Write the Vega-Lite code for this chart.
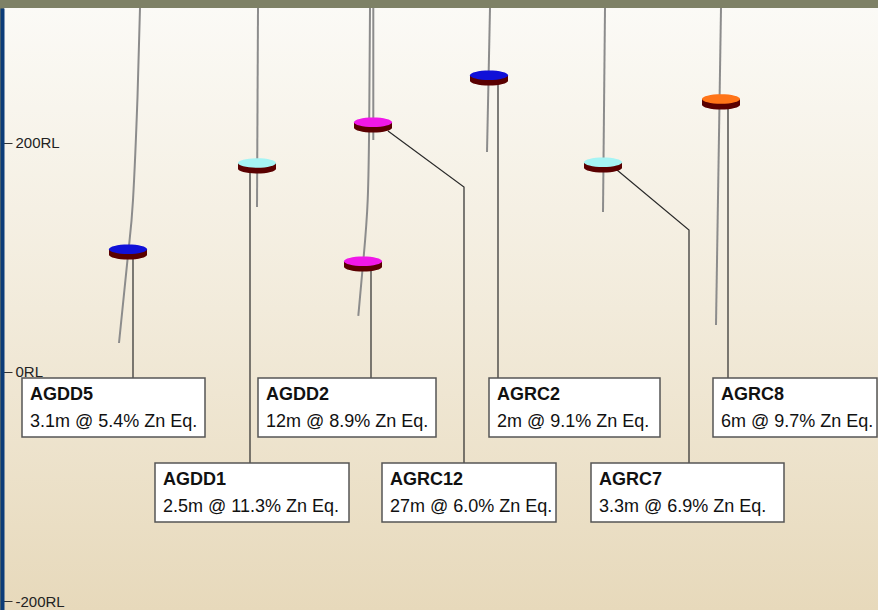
{
  "$schema": "https://vega.github.io/schema/vega-lite/v6.json",
  "width": 874,
  "height": 602,
  "autosize": "none",
  "padding": {"left": 4, "top": 8, "right": 0, "bottom": 0},
  "background": "#7e8166",
  "config": {
    "view": {
      "stroke": null,
      "fill": {
        "gradient": "linear",
        "x1": 0, "y1": 0, "x2": 0, "y2": 1,
        "stops": [
          {"offset": 0, "color": "#fbfaf6"},
          {"offset": 0.5, "color": "#f2ebdb"},
          {"offset": 1, "color": "#e7d9bb"}
        ]
      }
    },
    "font": "Liberation Sans"
  },
  "datasets": {
    "traces": [
      {"hole": "AGDD5", "i": 0, "x": 140, "y": 317.6},
      {"hole": "AGDD5", "i": 1, "x": 137.5, "y": 240.0},
      {"hole": "AGDD5", "i": 2, "x": 133, "y": 150.1},
      {"hole": "AGDD5", "i": 3, "x": 128.3, "y": 104.7},
      {"hole": "AGDD5", "i": 4, "x": 119, "y": 25.3},
      {"hole": "AGDD1", "i": 0, "x": 258, "y": 317.6},
      {"hole": "AGDD1", "i": 1, "x": 257, "y": 144.0},
      {"hole": "AGRC12", "i": 0, "x": 373.3, "y": 317.6},
      {"hole": "AGRC12", "i": 1, "x": 373.3, "y": 202.4},
      {"hole": "AGDD2", "i": 0, "x": 370, "y": 317.6},
      {"hole": "AGDD2", "i": 1, "x": 369.3, "y": 230.0},
      {"hole": "AGDD2", "i": 2, "x": 367.7, "y": 150.1},
      {"hole": "AGDD2", "i": 3, "x": 363, "y": 94.2},
      {"hole": "AGDD2", "i": 4, "x": 358.3, "y": 48.9},
      {"hole": "AGRC2", "i": 0, "x": 490, "y": 317.6},
      {"hole": "AGRC2", "i": 1, "x": 487, "y": 192.0},
      {"hole": "AGRC7", "i": 0, "x": 605, "y": 317.6},
      {"hole": "AGRC7", "i": 1, "x": 603, "y": 139.6},
      {"hole": "AGRC8", "i": 0, "x": 721, "y": 317.6},
      {"hole": "AGRC8", "i": 1, "x": 716, "y": 41.0}
    ],
    "leaders": [
      {"hole": "AGDD5", "i": 0, "x": 133, "y": 101.2},
      {"hole": "AGDD5", "i": 1, "x": 133, "y": -5.2},
      {"hole": "AGDD1", "i": 0, "x": 250, "y": 176.3},
      {"hole": "AGDD1", "i": 1, "x": 250, "y": -79.4},
      {"hole": "AGDD2", "i": 0, "x": 371, "y": 90.8},
      {"hole": "AGDD2", "i": 1, "x": 371, "y": -5.2},
      {"hole": "AGRC12", "i": 0, "x": 388, "y": 210.3},
      {"hole": "AGRC12", "i": 1, "x": 464, "y": 161.4},
      {"hole": "AGRC12", "i": 2, "x": 464, "y": -79.4},
      {"hole": "AGRC2", "i": 0, "x": 498, "y": 253.1},
      {"hole": "AGRC2", "i": 1, "x": 498, "y": -5.2},
      {"hole": "AGRC7", "i": 0, "x": 617, "y": 176.3},
      {"hole": "AGRC7", "i": 1, "x": 689, "y": 123.9},
      {"hole": "AGRC7", "i": 2, "x": 689, "y": -79.4},
      {"hole": "AGRC8", "i": 0, "x": 728, "y": 232.1},
      {"hole": "AGRC8", "i": 1, "x": 728, "y": -5.2}
    ],
    "discs": [
      {"hole": "AGDD5", "x": 128, "y": 104.7},
      {"hole": "AGDD1", "x": 257, "y": 179.8},
      {"hole": "AGRC12", "x": 373, "y": 215.5},
      {"hole": "AGDD2", "x": 363, "y": 94.2},
      {"hole": "AGRC2", "x": 489, "y": 256.5},
      {"hole": "AGRC7", "x": 603, "y": 180.6},
      {"hole": "AGRC8", "x": 721, "y": 235.6}
    ],
    "boxes": [
      {"hole": "AGDD5", "grade": "3.1m @ 5.4% Zn Eq.", "x1": 22, "x2": 205, "top": -5.2, "bottom": -56.7},
      {"hole": "AGDD1", "grade": "2.5m @ 11.3% Zn Eq.", "x1": 155, "x2": 349, "top": -79.4, "bottom": -130.9},
      {"hole": "AGDD2", "grade": "12m @ 8.9% Zn Eq.", "x1": 258, "x2": 436, "top": -5.2, "bottom": -56.7},
      {"hole": "AGRC12", "grade": "27m @ 6.0% Zn Eq.", "x1": 382, "x2": 556, "top": -79.4, "bottom": -130.9},
      {"hole": "AGRC2", "grade": "2m @ 9.1% Zn Eq.", "x1": 489, "x2": 660, "top": -5.2, "bottom": -56.7},
      {"hole": "AGRC7", "grade": "3.3m @ 6.9% Zn Eq.", "x1": 591, "x2": 784, "top": -79.4, "bottom": -130.9},
      {"hole": "AGRC8", "grade": "6m @ 9.7% Zn Eq.", "x1": 713, "x2": 877, "top": -5.2, "bottom": -56.7}
    ]
  },
  "layer": [
    {
      "data": {"name": "traces"},
      "mark": {"type": "line", "color": "#8c8c8c", "strokeWidth": 2, "interpolate": "natural"},
      "encoding": {
        "x": {"field": "x", "type": "quantitative", "scale": {"domain": [4, 878], "nice": false, "zero": false}, "axis": null},
        "y": {"field": "y", "type": "quantitative", "scale": {"domain": [-207.7, 317.6], "nice": false, "zero": false},
          "axis": {
            "values": [-200, 0, 200],
            "labelExpr": "datum.value + 'RL'",
            "title": null,
            "grid": false,
            "domainColor": "#0c3c78",
            "domainWidth": 4,
            "offset": 2,
            "tickSize": -10,
            "tickColor": "#333333",
            "tickWidth": 1,
            "labelAlign": "left",
            "labelBaseline": "middle",
            "labelPadding": -3,
            "labelFont": "Liberation Sans",
            "labelFontSize": 15,
            "labelColor": "#222222"
          }
        },
        "detail": {"field": "hole"},
        "order": {"field": "i"}
      }
    },
    {
      "data": {"name": "leaders"},
      "mark": {"type": "line", "color": "#2a2a2a", "strokeWidth": 1.2},
      "encoding": {
        "x": {"field": "x", "type": "quantitative"},
        "y": {"field": "y", "type": "quantitative"},
        "detail": {"field": "hole"},
        "order": {"field": "i"}
      }
    },
    {
      "data": {"name": "discs"},
      "mark": {"type": "point", "filled": true, "opacity": 1, "strokeWidth": 0, "size": 1444, "color": "#5a0000",
        "shape": "M -1 -0.15 L 1 -0.15 L 1 0.15 C 1 0.288 0.552 0.4 0 0.4 C -0.552 0.4 -1 0.288 -1 0.15 Z"},
      "encoding": {
        "x": {"field": "x", "type": "quantitative"},
        "y": {"field": "y", "type": "quantitative"}
      }
    },
    {
      "data": {"name": "discs"},
      "mark": {"type": "point", "filled": true, "opacity": 1, "strokeWidth": 0, "size": 1444,
        "shape": "M -1 -0.15 C -1 -0.288 -0.552 -0.4 0 -0.4 C 0.552 -0.4 1 -0.288 1 -0.15 C 1 -0.012 0.552 0.1 0 0.1 C -0.552 0.1 -1 -0.012 -1 -0.15 Z"},
      "encoding": {
        "x": {"field": "x", "type": "quantitative"},
        "y": {"field": "y", "type": "quantitative"},
        "color": {"field": "hole", "type": "nominal", "legend": null,
          "scale": {"domain": ["AGDD5", "AGDD1", "AGRC12", "AGDD2", "AGRC2", "AGRC7", "AGRC8"],
                    "range": ["#1010d8", "#a6f4f4", "#f018e8", "#f018e8", "#1010d8", "#a6f4f4", "#ff7418"]}}
      }
    },
    {
      "data": {"name": "boxes"},
      "mark": {"type": "rect", "fill": "#ffffff", "stroke": "#555555", "strokeWidth": 1.5},
      "encoding": {
        "x": {"field": "x1", "type": "quantitative"},
        "x2": {"field": "x2"},
        "y": {"field": "top", "type": "quantitative"},
        "y2": {"field": "bottom"}
      }
    },
    {
      "data": {"name": "boxes"},
      "mark": {"type": "text", "align": "left", "baseline": "alphabetic", "dx": 8, "dy": 22, "fontSize": 18, "fontWeight": "bold", "font": "Liberation Sans", "color": "#111111"},
      "encoding": {
        "x": {"field": "x1", "type": "quantitative"},
        "y": {"field": "top", "type": "quantitative"},
        "text": {"field": "hole"}
      }
    },
    {
      "data": {"name": "boxes"},
      "mark": {"type": "text", "align": "left", "baseline": "alphabetic", "dx": 8, "dy": 49, "fontSize": 18, "font": "Liberation Sans", "color": "#111111"},
      "encoding": {
        "x": {"field": "x1", "type": "quantitative"},
        "y": {"field": "top", "type": "quantitative"},
        "text": {"field": "grade"}
      }
    }
  ]
}
